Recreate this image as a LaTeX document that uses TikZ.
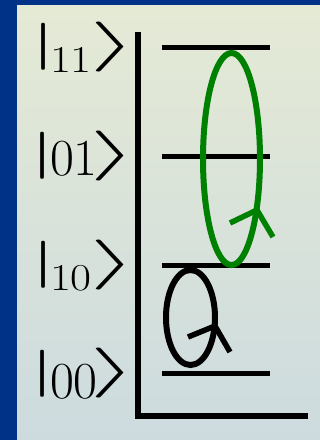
\documentclass[tikz,border=0pt]{standalone}
\usepackage{graphicx}
\definecolor{bgblue}{RGB}{0,50,135}
\definecolor{paneltop}{RGB}{229,234,213}
\definecolor{panelbot}{RGB}{205,219,223}
\definecolor{cycgreen}{RGB}{0,128,0}
\newcommand{\kbar}{\makebox[4pt][c]{\resizebox*{26pt}{47pt}{$|$}}}
\newcommand{\kang}{\makebox[20pt][c]{\resizebox*{48pt}{50pt}{$\rangle$}}}
\newcommand{\smalldig}[1]{{\fontsize{38}{38}\selectfont\scalebox{1.2}[1]{#1}}}
\tikzset{
  glyph/.style={inner sep=0pt, outer sep=0pt},
  digits/.style={inner sep=0pt, outer sep=0pt, anchor=base west, font=\fontsize{52}{52}\selectfont},
  level/.style={line width=5pt},
  axisline/.style={line width=5.5pt, line join=miter},
  cycle/.style={line width=6pt},
}
\begin{document}
\begin{tikzpicture}[x=1pt,y=-1pt]
\useasboundingbox (0,0) rectangle (320,440);
\fill[bgblue] (0,0) rectangle (320,440);
\shade[top color=paneltop, bottom color=panelbot] (17,5) rectangle (320,440);
% axes
\coordinate (axtop) at (138,32);
\coordinate (axcorner) at (138,416);
\coordinate (axright) at (308,416);
\draw[axisline] (axtop) -- (axcorner) -- (axright);
% levels
\foreach \n/\y in {11/47,01/156,10/265,00/373}{
  \coordinate (L\n a) at (162,\y);
  \coordinate (L\n b) at (270,\y);
  \draw[level] (L\n a) -- (L\n b);
}
% labels
\node[glyph] (bar11) at (43.5,46.5) {\kbar};
\node[digits] (dig11) at (50,72) {\smalldig{11}};
\node[glyph] (ang11) at (114,47) {\kang};
\node[glyph] (bar01) at (43,156) {\kbar};
\node[digits] (dig01) at (50,175) {01};
\node[glyph] (ang01) at (114,156) {\kang};
\node[glyph] (bar10) at (43.5,265) {\kbar};
\node[digits] (dig10) at (50,290) {\smalldig{10}};
\node[glyph] (ang10) at (114,265) {\kang};
\node[glyph] (bar00) at (43,373.5) {\kbar};
\node[digits] (dig00) at (50,398) {00};
\node[glyph] (ang00) at (114,373) {\kang};
% green cycle
\draw[cycle, cycgreen] (231.5,159) ellipse [x radius=28.5, y radius=106];
\coordinate (gtip) at (257,210);
\coordinate (gl) at (230,223);
\coordinate (gr) at (273,237);
\draw[cycle, cycgreen, line width=5.5pt] (gl) -- (gtip) -- (gr);
% black cycle
\draw[cycle, black] (190.5,317.5) ellipse [x radius=24.5, y radius=47.5];
\coordinate (btip) at (215,326);
\coordinate (bl) at (188,337);
\coordinate (br) at (230,352);
\draw[cycle, black, line width=5.5pt] (bl) -- (btip) -- (br);
\end{tikzpicture}
\end{document}
